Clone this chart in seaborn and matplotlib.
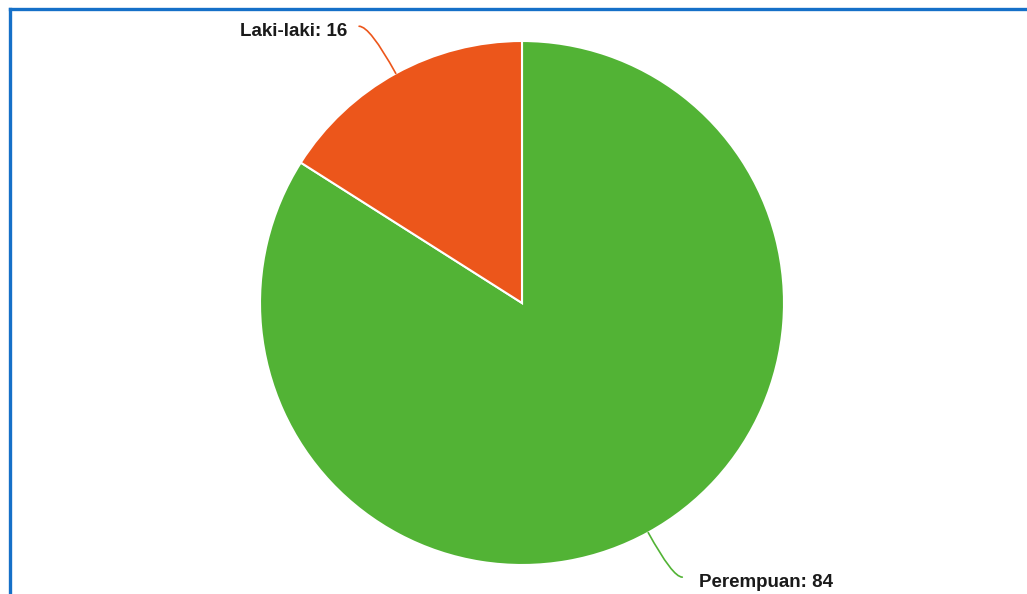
import numpy as np
import matplotlib
matplotlib.use("Agg")
import matplotlib.pyplot as plt
from matplotlib.lines import Line2D
import seaborn as sns

# data
labels = ["Perempuan", "Laki-laki"]
values = [84, 16]
colors = ["#52b335", "#ec561b"]

sns.set_style("white")
plt.rcParams['font.family'] = ['Liberation Sans', 'DejaVu Sans']

W, H = 1027, 594
fig = plt.figure(figsize=(W / 100, H / 100), dpi=100)

# pie centre and radius in pixels
cx, cy, r = 522, 303, 262
ax = fig.add_axes([(cx - r) / W, (H - cy - r) / H, 2 * r / W, 2 * r / H])
wedges, _ = ax.pie(values, colors=colors, startangle=90, counterclock=False,
                   radius=1, wedgeprops=dict(edgecolor="white", linewidth=1.5))
ax.set_xlim(-1, 1)
ax.set_ylim(-1, 1)
ax.set_aspect("equal")
ax.axis("off")

# labels with connectors
total = sum(values)
start = 90
for i, (lab, val, col) in enumerate(zip(labels, values, colors)):
    sweep = 360 * val / total
    mid_deg = start - sweep / 2
    mid = np.deg2rad(mid_deg)
    start -= sweep
    ex, ey = np.cos(mid), np.sin(mid)
    if ex > 0:
        endx, endy = ex + 0.13, ey - 0.17
        tx, ha = endx + 0.065, "left"
    else:
        endx, endy = ex - 0.14, ey + 0.18
        tx, ha = endx - 0.045, "right"
    ax.annotate("", xy=(ex, ey), xytext=(endx, endy),
                arrowprops=dict(arrowstyle="-", color=col, lw=1.2,
                                connectionstyle="angle3,angleA=0,angleB=%.1f" % mid_deg,
                                shrinkA=0, shrinkB=0),
                annotation_clip=False)
    ax.text(tx, endy - 0.02, "%s: %d" % (lab, val), ha=ha, va="center",
            fontsize=13.5, fontweight="bold", color="#1a1a1a", clip_on=False)

# blue frame (left and top)
bc = "#1570c8"
fig.add_artist(Line2D([9.5 / W, 9.5 / W], [0, 1 - 8.5 / H], color=bc, lw=2.4,
                      transform=fig.transFigure, solid_capstyle="projecting"))
fig.add_artist(Line2D([9.5 / W, 1], [1 - 8.5 / H, 1 - 8.5 / H], color=bc, lw=2.4,
                      transform=fig.transFigure, solid_capstyle="projecting"))

fig.savefig("out.png", dpi=100, facecolor="white")
